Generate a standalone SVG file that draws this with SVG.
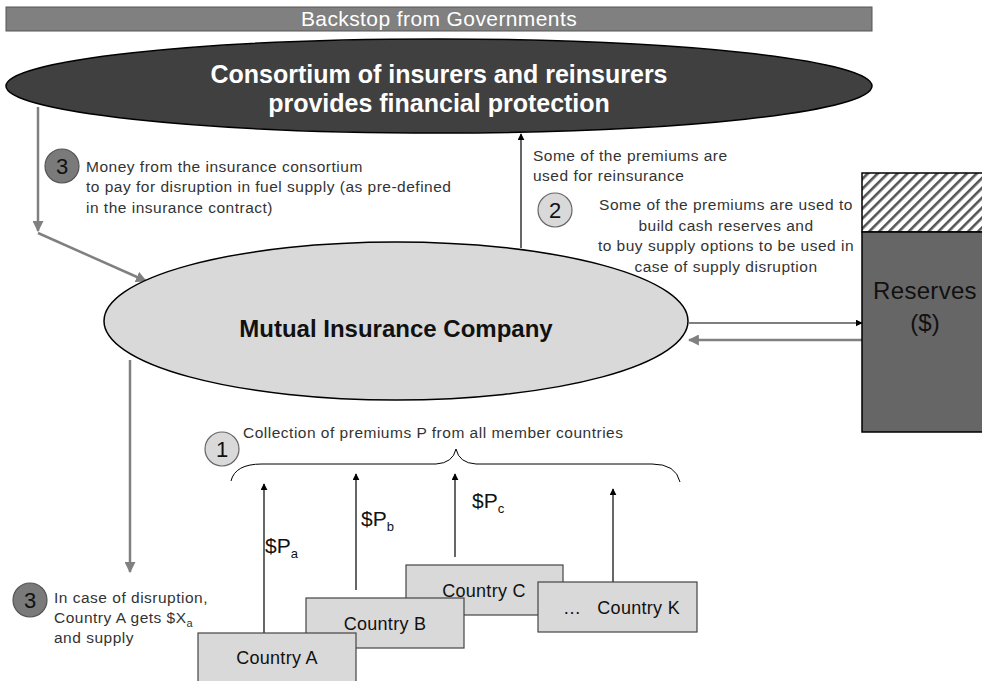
<svg xmlns="http://www.w3.org/2000/svg" width="982" height="681" viewBox="0 0 982 681">
<defs>
<style>
text{font-family:"Liberation Sans",Arial,sans-serif}
.note{font-size:15.5px;fill:#333;letter-spacing:0.5px}
.num{font-size:22px;fill:#111;text-anchor:middle}
.ctry{font-size:18px;fill:#111;text-anchor:middle;letter-spacing:0.3px}
.cbox{fill:#d9d9d9;stroke:#444;stroke-width:1.2}
.lc{fill:#d9d9d9;stroke:#666;stroke-width:1.2}
.dc{fill:#7a7a7a;stroke:#555;stroke-width:1.2}
.blk{stroke:#000;stroke-width:1.2;fill:none}
.gry{stroke:#808080;stroke-width:2.5;fill:none}
.lab{font-size:21px;fill:#111}
</style>
<marker id="ab" viewBox="0 0 10 10" refX="9" refY="5" markerWidth="7" markerHeight="7" markerUnits="userSpaceOnUse" orient="auto"><path d="M0,0 L10,5 L0,10 z" fill="#000"/></marker>
<marker id="ag" viewBox="0 0 10 10" refX="9" refY="5" markerWidth="11" markerHeight="11" markerUnits="userSpaceOnUse" orient="auto"><path d="M0,0 L10,5 L0,10 z" fill="#808080"/></marker>
<pattern id="hatch" patternUnits="userSpaceOnUse" width="7" height="7" patternTransform="rotate(45)"><rect width="7" height="7" fill="#fff"/><rect width="2.6" height="7" fill="#555"/></pattern>
</defs>
<rect width="982" height="681" fill="#fff"/>

<g id="backstop">
<rect x="6" y="7" width="866" height="24" fill="#808080" stroke="#555" stroke-width="1"/>
<text x="439" y="26" font-size="21" fill="#fff" text-anchor="middle" letter-spacing="0.4">Backstop from Governments</text>
</g>

<g id="consortium">
<ellipse cx="439" cy="86" rx="433" ry="47" fill="#404040" stroke="#000" stroke-width="1.5"/>
<text x="439" y="83" font-size="25" font-weight="bold" fill="#fff" text-anchor="middle">Consortium of insurers and reinsurers</text>
<text x="439" y="112" font-size="25" font-weight="bold" fill="#fff" text-anchor="middle">provides financial protection</text>
</g>

<g id="connectors">
<line class="gry" x1="38" y1="107" x2="38" y2="231" marker-end="url(#ag)"/>
<line class="gry" x1="38" y1="233" x2="146" y2="281" marker-end="url(#ag)"/>
<line class="blk" x1="521" y1="248" x2="521" y2="134" marker-end="url(#ab)"/>
<line class="blk" x1="689" y1="323" x2="862" y2="323" stroke-width="1.5" marker-end="url(#ab)"/>
<line class="gry" x1="862" y1="340" x2="689" y2="340" stroke-width="2" marker-end="url(#ag)"/>
<line class="gry" x1="130" y1="360" x2="130" y2="572" stroke-width="3" marker-end="url(#ag)"/>
<line class="blk" x1="264" y1="633" x2="264" y2="484" marker-end="url(#ab)"/>
<line class="blk" x1="356" y1="590" x2="356" y2="474" marker-end="url(#ab)"/>
<line class="blk" x1="455" y1="557" x2="455" y2="474" marker-end="url(#ab)"/>
<line class="blk" x1="613" y1="582" x2="613" y2="489" marker-end="url(#ab)"/>
<path d="M231,481 Q235,464 262,464 L436,464 Q453,463 456,449 Q459,463 476,464 L652,464 Q676,464 680,482" fill="none" stroke="#000" stroke-width="1"/>
</g>

<g id="mutual">
<ellipse cx="396" cy="321" rx="292" ry="79" fill="#d9d9d9" stroke="#000" stroke-width="1.5"/>
<text x="396" y="337" font-size="24" font-weight="bold" fill="#111" text-anchor="middle">Mutual Insurance Company</text>
</g>

<g id="reserves">
<rect x="862" y="173" width="125" height="59" fill="url(#hatch)" stroke="#000" stroke-width="1.5"/>
<rect x="862" y="232" width="125" height="200" fill="#666" stroke="#000" stroke-width="1.5"/>
<text x="925" y="299" font-size="24" fill="#111" text-anchor="middle" letter-spacing="0.3">Reserves</text>
<text x="925" y="331" font-size="24" fill="#111" text-anchor="middle">($)</text>
</g>

<g id="step3-top">
<circle class="dc" cx="62" cy="166" r="17"/>
<text class="num" x="62" y="174">3</text>
<text class="note" x="86" y="172">Money from the insurance consortium</text>
<text class="note" x="86" y="192">to pay for disruption in fuel supply (as pre-defined</text>
<text class="note" x="86" y="213">in the insurance contract)</text>
</g>

<g id="reinsurance-note">
<text class="note" x="533" y="161">Some of the premiums are</text>
<text class="note" x="533" y="181">used for reinsurance</text>
</g>

<g id="step2">
<circle class="lc" cx="555" cy="210" r="17"/>
<text class="num" x="555" y="218">2</text>
<text class="note" x="726" y="210" text-anchor="middle">Some of the premiums are used to</text>
<text class="note" x="726" y="231" text-anchor="middle">build cash reserves and</text>
<text class="note" x="726" y="251" text-anchor="middle">to buy supply options to be used in</text>
<text class="note" x="726" y="272" text-anchor="middle">case of supply disruption</text>
</g>

<g id="step1">
<circle class="lc" cx="222" cy="449" r="17"/>
<text class="num" x="222" y="457">1</text>
<text class="note" x="243" y="438">Collection of premiums P from all member countries</text>
</g>

<g id="step3-bottom">
<circle class="dc" cx="30" cy="600" r="17"/>
<text class="num" x="30" y="608">3</text>
<text class="note" x="54" y="603">In case of disruption,</text>
<text class="note" x="54" y="623">Country A gets $X<tspan font-size="11" dy="4">a</tspan></text>
<text class="note" x="54" y="643">and supply</text>
</g>

<g id="labels">
<text class="lab" x="265" y="553">$P<tspan font-size="13" dy="5">a</tspan></text>
<text class="lab" x="361" y="526">$P<tspan font-size="13" dy="5">b</tspan></text>
<text class="lab" x="472" y="508">$P<tspan font-size="13" dy="5">c</tspan></text>
</g>

<g id="country-c">
<rect class="cbox" x="406" y="565" width="157" height="50"/>
<text class="ctry" x="484" y="597">Country C</text>
</g>
<g id="country-b">
<rect class="cbox" x="306" y="598" width="158" height="50"/>
<text class="ctry" x="385" y="630">Country B</text>
</g>
<g id="country-a">
<rect class="cbox" x="198" y="633" width="158" height="55"/>
<text class="ctry" x="277" y="664">Country A</text>
</g>
<g id="country-k">
<rect class="cbox" x="538" y="582" width="159" height="50"/>
<text class="ctry" y="614"><tspan x="563" text-anchor="start">…</tspan><tspan x="680" text-anchor="end">Country K</tspan></text>
</g>
</svg>
